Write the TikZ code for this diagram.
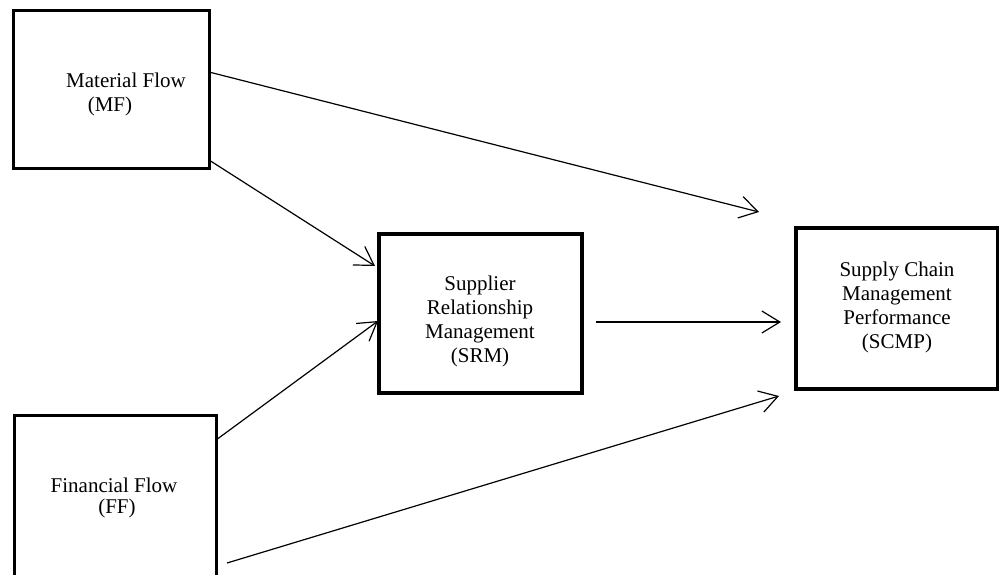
\documentclass[tikz,border=0pt]{standalone}
\usepackage{fontspec}
\setmainfont{Liberation Serif}
\usetikzlibrary{arrows.meta}
\begin{document}
\begin{tikzpicture}[x=1pt,y=-1pt,
  thinbox/.style={draw,line width=3pt,inner sep=0pt},
  thickbox/.style={draw,line width=4.5pt,inner sep=0pt},
  lbl/.style={font=\fontsize{21}{24}\selectfont,align=center,inner sep=0pt},
  arr/.style={line width=1.2pt,-{Straight Barb[length=18pt,width=22pt,line width=1.2pt]}}]
\useasboundingbox (0,0) rectangle (999,574);
\clip (0,0) rectangle (999,574);
% boxes
\node[thinbox,minimum width=196pt,minimum height=158pt] (mf) at (111,89.5) {};
\node[thinbox,minimum width=202pt,minimum height=200pt] (ff) at (115,515) {};
\node[thickbox,minimum width=203pt,minimum height=159pt] (srm) at (480.5,313.5) {};
\node[thickbox,minimum width=202pt,minimum height=161pt] (scmp) at (897,308.5) {};
% texts
\node[lbl] (mft1) at (126,80) {Material Flow};
\node[lbl] (mft2) at (110,106) {(MF)};
\node[lbl] (fft1) at (114,485) {Financial Flow};
\node[lbl] (fft2) at (117,508) {(FF)};
\node[lbl] (srmt) at (480,321) {Supplier\\Relationship\\Management\\(SRM)};
\node[lbl] (scmpt) at (897,307) {Supply Chain\\Management\\Performance\\(SCMP)};
% connector endpoints
\coordinate (a1s) at (209,72);
\coordinate (a1e) at (759,212);
\coordinate (a2s) at (209,160);
\coordinate (a2e) at (375,266);
\coordinate (a3s) at (216,440);
\coordinate (a3e) at (378,321);
\coordinate (a4s) at (596,322);
\coordinate (a4e) at (781,322);
\coordinate (a5s) at (227,563);
\coordinate (a5e) at (779,396);
\draw[arr] (a1s) -- (a1e);
\draw[arr] (a2s) -- (a2e);
\draw[arr] (a3s) -- (a3e);
\draw[arr] (a4s) -- (a4e);
\draw[arr] (a5s) -- (a5e);
\end{tikzpicture}
\end{document}
